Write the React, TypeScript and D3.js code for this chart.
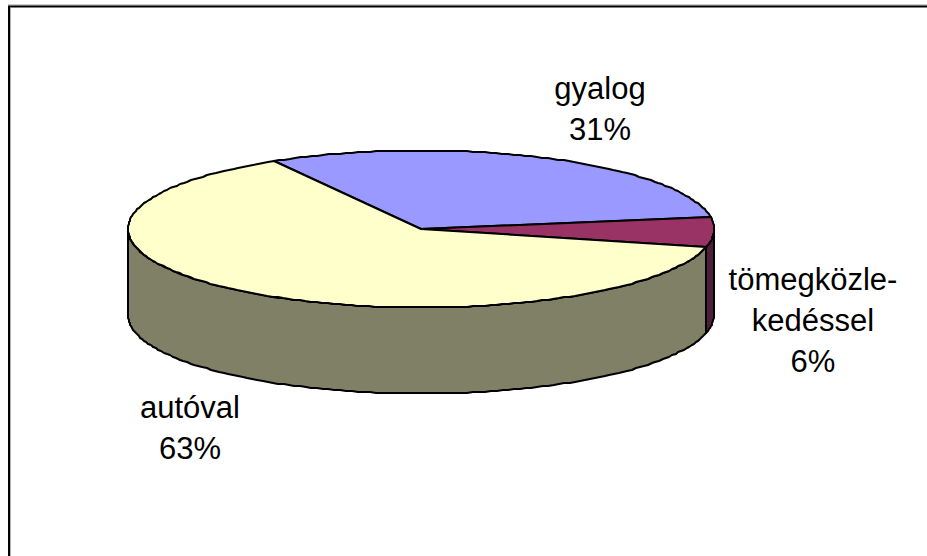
import React from "react";
import * as d3 from "d3";

const categories = ["gyalog", "tömegközlekedéssel", "autóval"];
const shares = [31, 6, 63];
const topColors = ["#9999FF", "#993366", "#FFFFCC"];
const sideColors = ["#4D4D80", "#4D1F3D", "#808066"];
const labelLines = [["gyalog", "31%"], ["tömegközle-", "kedéssel", "6%"], ["autóval", "63%"]];
const labelCentres = [[600, 99], [813, 290], [190, 418]];

const W = 927, H = 556;
const CX0 = 128, CX1 = 714, CY0 = 150.5, CY1 = 307.5, DEPTH = 86;
const x = d3.scaleLinear().domain([-1, 1]).range([CX0, CX1]);
const y = d3.scaleLinear().domain([-1, 1]).range([CY0, CY1]);
const START = (-30.2 * Math.PI) / 180;

const pie = d3.pie<number>().sort(null).startAngle(START).endAngle(START + 2 * Math.PI);
const arcs = pie(shares);
const line = d3.line();

function rim(a0: number, a1: number, dz = 0): [number, number][] {
  const n = Math.max(2, Math.ceil(Math.abs(a1 - a0) / (Math.PI / 150)));
  return d3.range(n + 1).map((i) => {
    const a = a0 + ((a1 - a0) * i) / n;
    return [Math.round(x(Math.sin(a))), Math.round(y(-Math.cos(a)) + dz)] as [number, number];
  });
}

function top(a0: number, a1: number) {
  return (line([[x(0), y(0)], ...rim(a0, a1)]) ?? "") + "Z";
}

function side(a0: number, a1: number) {
  const lo = Math.max(a0, Math.PI / 2);
  const hi = Math.min(a1, (3 * Math.PI) / 2);
  if (hi <= lo) return null;
  return (line([...rim(lo, hi), ...rim(hi, lo, DEPTH)]) ?? "") + "Z";
}

export default function App() {
  return (
    <svg width={W} height={H} style={{ position: "absolute", left: 0, top: 0, background: "#fff" }}>
      <line x1={10.5} y1={8} x2={10.5} y2={H} stroke="#b0b0b0" strokeWidth={1} />
      <line x1={8} y1={5} x2={W} y2={5} stroke="#999" strokeWidth={1} />
      <line x1={8} y1={6.5} x2={W} y2={6.5} stroke="#000" strokeWidth={2} />
      <line x1={9} y1={6} x2={9} y2={H} stroke="#000" strokeWidth={2} />
      {arcs.map((a, i) => {
        const d = side(a.startAngle, a.endAngle);
        return d ? <path key={categories[i]} d={d} fill={sideColors[i]} stroke="#000" strokeWidth={2} strokeLinejoin="round" /> : null;
      })}
      {arcs.map((a, i) => (
        <path key={categories[i]} d={top(a.startAngle, a.endAngle)} fill={topColors[i]} stroke="#000" strokeWidth={2} strokeLinejoin="round" />
      ))}
      {labelLines.map((lines, i) => (
        <text key={categories[i]} x={labelCentres[i][0]} textAnchor="middle" fontFamily="'Liberation Sans', Arial, sans-serif" fontSize={31} fill="#000">
          {lines.map((t, j) => (
            <tspan key={t} x={labelCentres[i][0]} y={labelCentres[i][1] + j * 41}>{t}</tspan>
          ))}
        </text>
      ))}
    </svg>
  );
}
